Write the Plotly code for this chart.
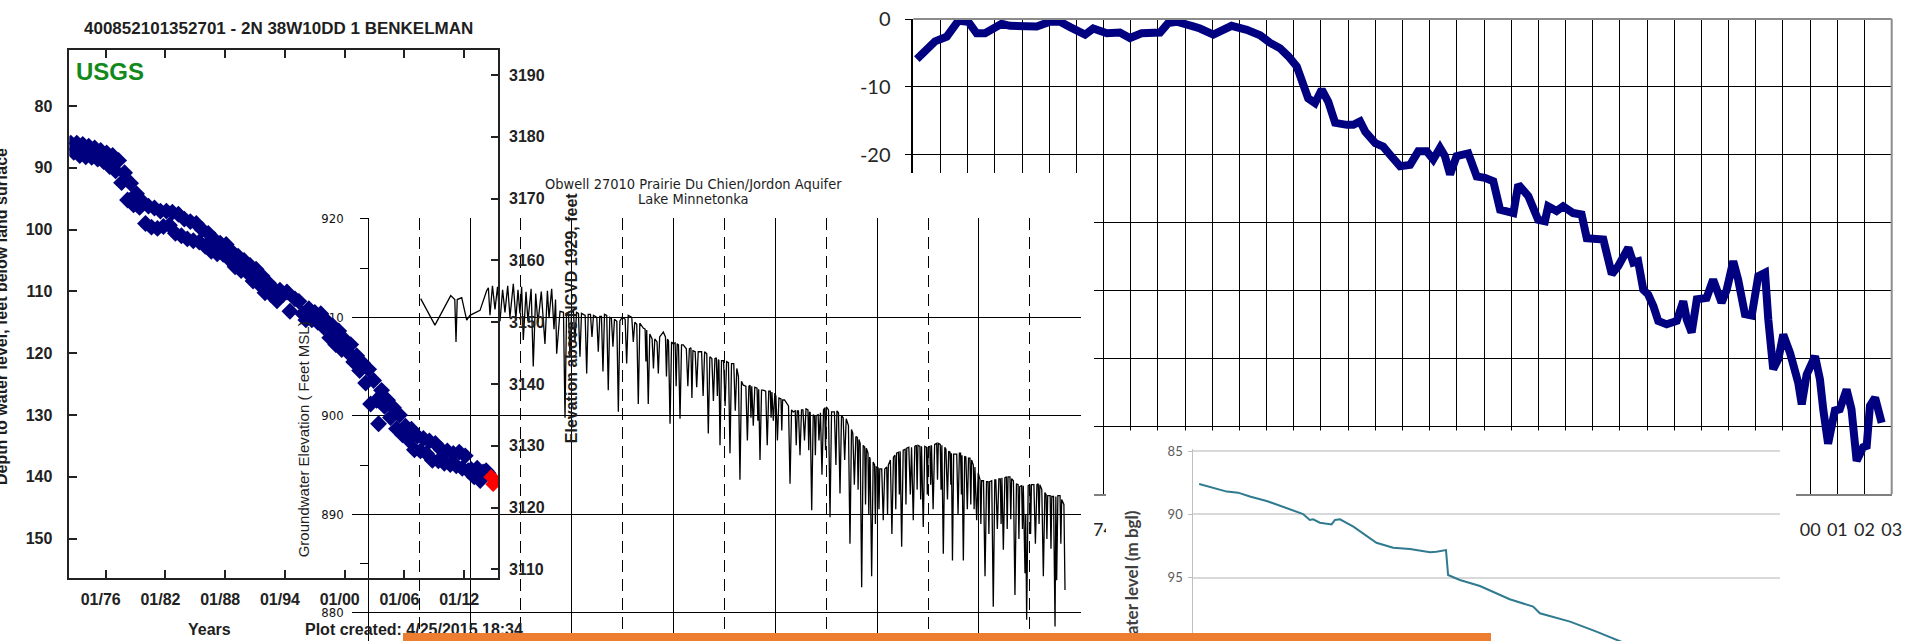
import plotly.graph_objects as go

W, H = 1911, 641

# ---------------- DATA ----------------
# Panel A: USGS 400852101352701 - depth to water (ft below land surface)
usgs_years = [
    1972.5, 1972.8, 1973.1, 1973.4, 1973.7, 1974.0, 1974.3, 1974.6, 1974.9, 1975.2,
    1975.5, 1975.8, 1976.1, 1976.4, 1976.7, 1977.0, 1977.3, 1977.6, 1977.9, 1978.2,
    1978.5, 1978.8, 1979.1, 1979.4, 1979.7, 1980.0, 1980.3, 1980.6, 1980.9, 1981.2,
    1981.5, 1981.8, 1982.1, 1982.4, 1982.7, 1983.0, 1983.3, 1983.6, 1983.9, 1984.2,
    1984.5, 1984.8, 1985.1, 1985.4, 1985.7, 1986.0, 1986.3, 1986.6, 1986.9, 1987.2,
    1987.5, 1987.8, 1988.1, 1988.4, 1988.7, 1989.0, 1989.3, 1989.6, 1989.9, 1990.2,
    1990.5, 1990.8, 1991.1, 1991.4, 1991.7, 1992.0, 1992.3, 1992.6, 1992.9, 1993.2,
    1993.5, 1993.8, 1994.2, 1994.5, 1995.0, 1995.4, 1995.8, 1996.1, 1996.4, 1996.7,
    1997.0, 1997.3, 1997.6, 1997.9, 1998.2, 1998.5, 1998.8, 1999.1, 1999.4, 1999.7,
    2000.0, 2000.3, 2000.6, 2000.9, 2001.2, 2001.5, 2001.8, 2002.1, 2002.4, 2002.6,
    2002.9, 2003.2, 2003.4, 2003.7, 2004.0, 2004.3, 2004.6, 2004.9, 2005.2, 2005.5,
    2005.8, 2006.1, 2006.4, 2006.7, 2007.0, 2007.3, 2007.6, 2007.9, 2008.2, 2008.5,
    2008.8, 2009.1, 2009.4, 2009.7, 2010.0, 2010.3, 2010.6, 2010.9, 2011.2, 2011.5,
    2011.8, 2012.1, 2012.4, 2012.7, 2013.0, 2013.3, 2013.6, 2013.9, 2014.2, 2014.4,
]
usgs_depth = [
    86.0, 87.5, 86.0, 88.0, 86.2, 88.2, 86.5, 88.3, 86.8, 88.6,
    87.2, 89.0, 87.6, 89.8, 88.0, 90.5, 88.8, 92.4, 90.8, 95.2,
    92.5, 96.0, 94.2, 96.4, 95.5, 99.0, 96.2, 99.6, 96.5, 99.8,
    97.0, 99.5, 97.0, 99.3, 97.2, 100.6, 97.5, 101.0, 98.3, 101.5,
    98.7, 101.8, 99.0, 102.0, 100.0, 102.7, 100.6, 103.5, 101.6, 103.9,
    102.2, 104.0, 102.4, 104.8, 103.6, 106.0, 104.3, 106.6, 105.0, 106.9,
    105.8, 108.3, 106.4, 108.8, 107.5, 110.2, 108.6, 110.5, 109.6, 111.5,
    109.8, 110.5, 110.1, 113.2, 111.2, 111.6, 113.6, 114.6, 112.8, 114.6,
    113.4, 115.0, 113.6, 115.8, 114.8, 117.5, 115.6, 118.6, 116.4, 119.4,
    117.8, 119.8, 118.6, 121.4, 120.4, 122.8, 121.6, 124.8, 122.6, 128.2,
    124.4, 127.6, 131.4, 126.0, 128.6, 127.6, 130.4, 128.8, 132.2, 130.0,
    133.2, 131.8, 134.0, 132.3, 135.6, 133.4, 135.8, 133.8, 136.2, 134.2,
    137.3, 134.6, 137.4, 135.6, 137.8, 135.8, 138.0, 136.2, 138.2, 136.0,
    138.6, 136.6, 139.0, 138.8, 140.0, 138.6, 140.6, 139.2, 139.0, 139.4,
]
usgs_recent_years = [2014.7, 2014.9, 2015.1]
usgs_recent_depth = [140.0, 141.2, 140.6]
usgs_tick_years = [1976, 1982, 1988, 1994, 2000, 2006, 2012]
usgs_tick_labels = ["01/76", "01/82", "01/88", "01/94", "01/00", "01/06", "01/12"]
usgs_depth_ticks = [80, 90, 100, 110, 120, 130, 140, 150]
usgs_elev_ticks = [3110, 3120, 3130, 3140, 3150, 3160, 3170, 3180, 3190]

# Panel B: Obwell 27010 groundwater elevation (ft MSL), (year, elevation) readings
obwell_points = [
    (1955.15, 911.9), (1956.55, 909.2), (1958.10, 912.2), (1958.50, 911.8), (1958.62, 907.5),
    (1958.74, 911.8), (1959.18, 912.0), (1959.67, 909.7), (1959.99, 910.2), (1960.98, 910.7),
    (1961.63, 912.7), (1961.80, 913.0), (1961.96, 910.2), (1962.20, 913.2), (1962.45, 910.8),
    (1962.70, 913.1), (1962.94, 909.6), (1963.20, 912.8), (1963.43, 910.5), (1963.70, 913.2),
    (1963.92, 910.0), (1964.25, 913.4), (1964.50, 909.8), (1964.71, 912.8), (1964.90, 910.4),
    (1965.07, 913.1), (1965.23, 907.7), (1965.50, 912.6), (1965.69, 909.6), (1966.00, 912.9),
    (1966.21, 905.0), (1966.45, 912.4), (1966.67, 909.4), (1967.00, 912.6), (1967.36, 907.3),
    (1967.60, 912.7), (1967.76, 909.9), (1968.02, 912.9), (1968.25, 908.8), (1968.40, 911.8),
    (1968.51, 906.3), (1968.84, 910.6),
    (1969.18, 910.5), (1969.33, 899.8), (1969.48, 910.4),
    (1969.67, 910.5), (1969.82, 906.0), (1969.97, 910.5),
    (1970.16, 910.6), (1970.31, 907.5), (1970.46, 910.5),
    (1970.65, 910.4), (1970.80, 906.0), (1970.95, 910.4),
    (1971.31, 910.2), (1971.46, 904.3), (1971.61, 910.3),
    (1971.83, 910.3), (1971.98, 908.0), (1972.13, 910.2),
    (1972.45, 910.0), (1972.60, 906.5), (1972.75, 910.1),
    (1972.91, 910.1), (1973.06, 904.5), (1973.21, 910.3),
    (1973.43, 910.2), (1973.58, 902.6), (1973.73, 910.0),
    (1973.89, 909.9), (1974.04, 907.0), (1974.19, 909.8),
    (1974.42, 909.6), (1974.57, 900.4), (1974.72, 909.6), (1974.95, 910.0),
    (1975.24, 909.8), (1975.39, 905.3), (1975.54, 910.2),
    (1975.89, 910.0), (1976.04, 907.5), (1976.19, 909.5),
    (1976.38, 909.3), (1976.53, 901.2), (1976.68, 909.4), (1977.02, 908.9),
    (1977.20, 908.8), (1977.28, 905.5), (1977.36, 908.7),
    (1977.51, 901.2), (1977.66, 908.3),
    (1977.89, 907.8), (1978.02, 904.8), (1978.15, 907.8),
    (1978.37, 907.5), (1978.50, 904.3), (1978.63, 908.0), (1978.99, 908.5),
    (1979.20, 908.0), (1979.30, 904.0), (1979.40, 907.8),
    (1979.50, 907.6), (1979.65, 899.2), (1979.80, 907.5), (1979.97, 907.3),
    (1980.15, 907.4), (1980.25, 903.0), (1980.35, 907.3),
    (1980.48, 907.2), (1980.63, 899.7), (1980.78, 907.2), (1980.95, 907.2),
    (1981.25, 906.8), (1981.40, 903.0), (1981.55, 906.8),
    (1981.70, 906.9), (1981.80, 901.8), (1981.90, 906.6),
    (1982.12, 906.5), (1982.27, 902.9), (1982.42, 906.5),
    (1982.75, 906.5), (1982.90, 902.0), (1983.05, 906.5),
    (1983.26, 906.3), (1983.41, 898.2), (1983.56, 906.0),
    (1983.76, 905.8), (1983.91, 901.5), (1984.06, 905.8),
    (1984.20, 905.9), (1984.30, 902.0), (1984.40, 905.7),
    (1984.45, 905.6), (1984.56, 897.0), (1984.71, 905.6),
    (1984.91, 905.6), (1985.06, 901.0), (1985.21, 905.5),
    (1985.39, 905.4), (1985.54, 896.2), (1985.69, 905.3),
    (1985.91, 905.3), (1986.06, 900.5), (1986.21, 904.8),
    (1986.37, 904.0), (1986.52, 893.5), (1986.67, 903.5), (1986.85, 903.1),
    (1987.10, 903.0), (1987.25, 897.5), (1987.40, 903.0),
    (1987.52, 903.1), (1987.60, 899.8), (1987.68, 903.0),
    (1987.83, 899.0), (1987.98, 902.9),
    (1988.20, 902.8), (1988.28, 899.5), (1988.36, 902.7),
    (1988.49, 895.5), (1988.64, 902.6), (1988.81, 902.6),
    (1989.05, 902.5), (1989.20, 897.0), (1989.35, 902.5),
    (1989.50, 902.5), (1989.58, 899.8), (1989.66, 902.4),
    (1989.80, 899.5), (1989.95, 902.3),
    (1990.05, 902.0), (1990.20, 897.5), (1990.35, 901.8),
    (1990.55, 901.7), (1990.63, 898.5), (1990.71, 901.6), (1990.90, 901.6),
    (1991.29, 901.0), (1991.44, 893.1), (1991.59, 900.6), (1991.76, 900.4),
    (1991.95, 900.5), (1992.05, 897.0), (1992.15, 900.5),
    (1992.27, 900.5), (1992.42, 896.0), (1992.57, 900.6),
    (1992.71, 900.6), (1992.86, 897.5), (1993.01, 900.7),
    (1993.20, 900.6), (1993.28, 896.5), (1993.36, 900.4),
    (1993.42, 900.3), (1993.57, 890.4), (1993.72, 900.1),
    (1993.85, 900.0), (1993.93, 896.0), (1994.01, 900.0),
    (1994.20, 900.1), (1994.28, 897.5), (1994.36, 900.2),
    (1994.43, 900.3), (1994.58, 894.0), (1994.73, 900.6),
    (1994.85, 900.8), (1994.93, 896.5), (1995.01, 900.9),
    (1995.22, 900.6), (1995.37, 889.7), (1995.52, 900.4),
    (1995.80, 900.4), (1995.95, 895.0), (1996.05, 900.5),
    (1996.20, 900.3), (1996.35, 892.1), (1996.50, 900.0),
    (1996.66, 899.8), (1996.81, 895.5), (1996.96, 899.7),
    (1997.18, 899.0), (1997.33, 887.0), (1997.48, 898.6),
    (1997.61, 898.2), (1997.76, 893.0), (1997.91, 897.9),
    (1998.05, 897.8), (1998.13, 892.5), (1998.21, 897.6),
    (1998.33, 897.2), (1998.48, 882.6), (1998.63, 897.0),
    (1998.78, 896.8), (1998.86, 891.0), (1998.94, 896.7),
    (1999.10, 896.2), (1999.18, 890.0), (1999.26, 895.8),
    (1999.31, 895.6), (1999.46, 883.7), (1999.61, 895.3),
    (1999.75, 895.0), (1999.83, 889.0), (1999.91, 894.8),
    (2000.10, 894.7), (2000.18, 890.5), (2000.26, 894.6),
    (2000.45, 894.6), (2000.60, 889.4), (2000.75, 894.6),
    (2000.94, 894.8), (2001.02, 890.0), (2001.10, 895.0),
    (2001.30, 895.5), (2001.45, 888.0), (2001.60, 895.8),
    (2001.75, 896.0), (2001.83, 890.5), (2001.91, 896.2),
    (2002.10, 896.3), (2002.18, 892.0), (2002.26, 896.4),
    (2002.41, 886.7), (2002.56, 896.5),
    (2002.75, 896.6), (2002.83, 891.0), (2002.91, 896.7),
    (2003.11, 896.8), (2003.26, 892.0), (2003.38, 896.8),
    (2003.55, 889.4), (2003.70, 896.9),
    (2003.85, 897.0), (2003.93, 892.5), (2004.01, 897.0),
    (2004.20, 896.9), (2004.28, 891.5), (2004.36, 896.9),
    (2004.53, 888.7), (2004.68, 896.9),
    (2004.85, 896.8), (2004.93, 892.0), (2005.01, 896.8),
    (2005.18, 896.9), (2005.26, 893.0), (2005.34, 897.0),
    (2005.50, 890.5), (2005.65, 897.1),
    (2005.85, 897.2), (2005.93, 893.5), (2006.01, 897.2),
    (2006.20, 897.1), (2006.28, 892.5), (2006.36, 897.0),
    (2006.50, 886.0), (2006.65, 896.8),
    (2006.76, 896.6), (2006.91, 891.5), (2007.03, 896.4),
    (2007.16, 896.3), (2007.24, 893.0), (2007.30, 896.2),
    (2007.40, 885.3), (2007.52, 896.1),
    (2007.82, 896.1), (2007.95, 890.0), (2008.08, 896.2),
    (2008.20, 896.2), (2008.28, 892.0), (2008.34, 896.0),
    (2008.47, 885.3), (2008.60, 895.9),
    (2008.72, 895.8), (2008.86, 890.5), (2008.98, 895.7),
    (2009.12, 895.7), (2009.20, 891.0), (2009.28, 895.5),
    (2009.45, 895.0), (2009.53, 890.5), (2009.61, 894.8),
    (2009.78, 889.4), (2009.93, 894.2),
    (2010.11, 893.5), (2010.19, 889.0), (2010.27, 893.4),
    (2010.45, 893.4), (2010.60, 883.7), (2010.75, 893.3),
    (2010.90, 893.3), (2010.98, 888.0), (2011.06, 893.3),
    (2011.26, 893.4), (2011.41, 880.6), (2011.56, 893.5),
    (2011.66, 893.5), (2011.81, 888.5), (2011.96, 893.6),
    (2012.10, 893.6), (2012.18, 889.0), (2012.26, 893.7),
    (2012.40, 886.4), (2012.55, 893.7),
    (2012.70, 893.8), (2012.78, 888.5), (2012.86, 893.8),
    (2013.05, 893.8), (2013.13, 889.5), (2013.21, 893.6),
    (2013.39, 893.4), (2013.54, 881.8), (2013.69, 893.1),
    (2013.85, 893.0), (2013.93, 887.5), (2014.01, 892.8),
    (2014.20, 892.9), (2014.28, 888.5), (2014.36, 892.9),
    (2014.53, 884.0), (2014.60, 890.0), (2014.69, 879.3), (2014.84, 892.9),
    (2015.00, 893.0), (2015.08, 888.0), (2015.16, 893.0), (2015.31, 893.0),
    (2015.40, 893.0), (2015.55, 887.0), (2015.70, 893.0),
    (2015.83, 893.1), (2015.91, 889.0), (2015.99, 893.0),
    (2016.18, 892.5), (2016.33, 883.7), (2016.48, 892.2),
    (2016.60, 892.0), (2016.68, 887.5), (2016.76, 891.9),
    (2017.00, 891.9), (2017.08, 886.5), (2017.16, 891.8),
    (2017.33, 891.8), (2017.48, 878.6), (2017.56, 891.8), (2017.64, 883.3), (2017.76, 891.9),
    (2017.97, 891.9), (2018.05, 887.0), (2018.13, 891.5),
    (2018.35, 891.0), (2018.46, 882.3),
]
obwell_years = [p[0] for p in obwell_points]
obwell_elev = [p[1] for p in obwell_points]
obwell_ticks = [880, 890, 900, 910, 920]

# Panel C: water-level change (ft), 1967-2003
trend_years = [
    1967.13, 1967.49, 1967.80, 1968.23, 1968.47, 1968.66, 1969.02, 1969.33, 1969.64, 1969.94,
    1970.25, 1970.56, 1971.05, 1971.54, 1972.03, 1972.40, 1972.77, 1973.32, 1973.62, 1974.12,
    1974.60, 1974.97, 1975.40, 1976.08, 1976.38, 1976.69, 1977.30, 1977.55, 1978.04, 1978.41,
    1978.71, 1979.27, 1979.76, 1980.12, 1980.49, 1980.80, 1981.11, 1981.29, 1981.53, 1981.78,
    1982.03, 1982.27, 1982.52, 1982.95, 1983.19, 1983.44, 1983.63, 1984.00, 1984.29, 1984.54,
    1984.91, 1985.28, 1985.58, 1985.89, 1986.13, 1986.38, 1986.56, 1986.75, 1986.99, 1987.42,
    1987.73, 1988.03, 1988.34, 1988.59, 1989.08, 1989.26, 1989.63, 1989.99, 1990.24, 1990.36,
    1990.67, 1990.91, 1991.28, 1991.59, 1991.78, 1992.39, 1992.63, 1992.70, 1992.94, 1993.31,
    1993.49, 1993.67, 1993.86, 1994.04, 1994.23, 1994.41, 1994.72, 1995.09, 1995.33, 1995.46,
    1995.64, 1995.83, 1996.19, 1996.43, 1996.74, 1996.93, 1997.17, 1997.35, 1997.60, 1997.85,
    1998.09, 1998.34, 1998.46, 1998.64, 1998.83, 1999.01, 1999.26, 1999.56, 1999.69, 1999.87,
    2000.18, 2000.36, 2000.48, 2000.66, 2000.91, 2001.09, 2001.34, 2001.52, 2001.71, 2001.95,
    2002.08, 2002.20, 2002.39, 2002.63,
]
trend_change = [
    -5.9, -4.6, -3.3, -2.6, -1.1, -0.25, -0.4, -2.1, -2.1, -1.4,
    -0.7, -1.0, -1.0, -1.1, -0.4, -0.4, -1.2, -2.3, -1.4, -2.1,
    -2.0, -2.8, -2.1, -2.0, -0.6, -0.4, -1.1, -1.4, -2.3, -1.6,
    -1.0, -1.6, -2.4, -3.5, -4.3, -5.5, -7.0, -9.0, -11.7, -12.4,
    -10.4, -12.2, -15.3, -15.6, -15.6, -15.1, -16.6, -18.3, -18.8, -20.0,
    -21.7, -21.5, -19.5, -19.5, -20.7, -19.0, -20.2, -22.9, -20.2, -19.8,
    -23.2, -23.4, -23.9, -28.1, -28.6, -24.4, -26.1, -29.6, -29.8, -27.6,
    -28.3, -27.6, -28.6, -28.8, -32.3, -32.5, -35.7, -37.6, -36.4, -33.7,
    -35.9, -35.7, -39.9, -40.6, -42.3, -44.5, -45.0, -44.5, -41.6, -44.3,
    -46.2, -41.3, -41.1, -38.4, -41.8, -39.9, -35.7, -38.4, -43.5, -43.7,
    -37.9, -37.4, -44.3, -51.6, -50.1, -46.5, -49.2, -53.6, -56.8, -52.4,
    -49.7, -53.1, -57.5, -62.6, -57.7, -57.5, -54.6, -57.5, -65.1, -63.1,
    -62.9, -57.0, -55.8, -59.5,
]
trend_tick_years = [
    1967, 1968, 1969, 1970, 1971, 1972, 1973, 1974, 1975, 1976, 1977, 1978, 1979,
    1980, 1981, 1982, 1983, 1984, 1985, 1986, 1987, 1988, 1989, 1990, 1991, 1992,
    1993, 1994, 1995, 1996, 1997, 1998, 1999, 2000, 2001, 2002, 2003,
]
trend_tick_labels = [
    "67", "68", "69", "70", "71", "72", "73", "74", "75", "76", "77", "78", "79",
    "80", "81", "82", "83", "84", "85", "86", "87", "88", "89", "90", "91", "92",
    "93", "94", "95", "96", "97", "98", "99", "00", "01", "02", "03",
]
trend_y_ticks = [0, -10, -20, -30, -40, -50, -60, -70]
trend_y_labels = ["0", "-10", "-20", "-30", "-40", "-50", "-60", "-70"]

# Panel D: water level (m bgl)
bgl_years = [
    2000.14, 2000.48, 2000.80, 2001.07, 2001.35, 2001.75, 2002.07, 2002.38, 2002.62, 2002.78,
    2002.86, 2003.02, 2003.30, 2003.38, 2003.50, 2003.82, 2004.37, 2004.77, 2005.17, 2005.65,
    2005.80, 2006.03, 2006.08, 2006.36, 2006.84, 2007.55, 2008.11, 2008.27, 2008.99, 2009.62,
    2010.10, 2010.60,
]
bgl_level = [
    87.61, 87.95, 88.21, 88.29, 88.6, 88.95, 89.32, 89.66, 89.98, 90.45,
    90.4, 90.67, 90.8, 90.45, 90.4, 90.98, 92.25, 92.64, 92.75, 93.0,
    92.96, 92.83, 94.8, 95.2, 95.67, 96.72, 97.3, 97.83, 98.49, 99.28,
    99.94, 100.6,
]
bgl_ticks = [85, 90, 95, 100]

assert len(usgs_years) == len(usgs_depth)
assert len(trend_years) == len(trend_change)
assert len(bgl_years) == len(bgl_level)


# ---------------- LAYOUT HELPERS ----------------
def fx(p):
    return p / W


def fy(p):
    return 1 - p / H


ARIAL = "Liberation Sans, Arial, sans-serif"
NARROW = "Liberation Sans Narrow, DejaVu Sans Condensed, Arial Narrow, sans-serif"
CALIBRI = "Lato, Open Sans, sans-serif"
DARK = "#1e1e1e"

fig = go.Figure()

# subplot 1 (bottom-most): thick navy trend chart
fig.add_trace(go.Scatter(x=trend_years, y=trend_change, mode="lines",
                         line=dict(color="#000080", width=8), xaxis="x", yaxis="y"))
# subplot 2: white backdrop of the Obwell chart
fig.add_trace(go.Scatter(x=[None], y=[None], mode="lines", xaxis="x2", yaxis="y2"))
# subplot 3: Obwell chart
fig.add_trace(go.Scatter(x=obwell_years, y=obwell_elev, mode="lines",
                         line=dict(color="black", width=1.3), xaxis="x3", yaxis="y3"))
# subplot 4: USGS chart
fig.add_trace(go.Scatter(x=usgs_years, y=usgs_depth, mode="markers",
                         marker=dict(symbol="diamond", size=13, color="#00007f"),
                         xaxis="x4", yaxis="y4"))
fig.add_trace(go.Scatter(x=usgs_recent_years, y=usgs_recent_depth, mode="markers",
                         marker=dict(symbol="diamond", size=12, color="#ff0000"),
                         xaxis="x4", yaxis="y4"))
fig.add_trace(go.Scatter(x=[None], y=[None], mode="lines", xaxis="x4", yaxis="y5"))
# subplot 6: white backdrop of the m bgl chart
fig.add_trace(go.Scatter(x=[None], y=[None], mode="lines", xaxis="x6", yaxis="y6"))
# subplot 7: m bgl chart
fig.add_trace(go.Scatter(x=bgl_years, y=bgl_level, mode="lines",
                         line=dict(color="#2f7a8f", width=2), xaxis="x7", yaxis="y7"))

hidden = dict(visible=False, range=[0, 1], fixedrange=True, automargin=False)

layout = dict(
    template="none",
    width=W, height=H, margin=dict(l=0, r=0, t=0, b=0, pad=0, autoexpand=False),
    paper_bgcolor="white", plot_bgcolor="white", showlegend=False,
    font=dict(family=ARIAL, color=DARK),
    # ---- trend chart ----
    xaxis=dict(domain=[fx(913.3), fx(1891.7)], anchor="y", range=[1967, 2003],
               tickmode="array", tickvals=trend_tick_years, ticktext=trend_tick_labels,
               showgrid=True, gridcolor="black", gridwidth=1.3, zeroline=False,
               showline=True, linecolor="#7f7f7f", linewidth=2, ticks="",
               tickfont=dict(family=CALIBRI, size=18, color="#262626"),
               ticklabelstandoff=18, automargin=False),
    yaxis=dict(domain=[fy(494), fy(19)], anchor="x", range=[-70, 0],
               tickmode="array", tickvals=trend_y_ticks, ticktext=trend_y_labels,
               showgrid=True, gridcolor="black", gridwidth=1.3, zeroline=False,
               showline=True, linecolor="black", linewidth=1.5,
               ticks="outside", ticklen=7, tickcolor="black", tickwidth=1.3,
               tickfont=dict(family=CALIBRI, size=20, color="#262626"),
               ticklabelstandoff=10, automargin=False),
    # ---- backdrop for Obwell chart ----
    xaxis2=dict(domain=[fx(352), fx(1094)], anchor="y2", **hidden),
    yaxis2=dict(domain=[0, fy(173)], anchor="x2", **hidden),
    # ---- Obwell chart ----
    xaxis3=dict(domain=[fx(352.3), fx(1081.2)], anchor="y3", range=[1948.43, 2020.05],
                tick0=1950, dtick=10, showgrid=True, gridcolor="black", gridwidth=1.4,
                minor=dict(tick0=1950, dtick=5, showgrid=True, gridcolor="black",
                           gridwidth=1.2, griddash="12px,7px"),
                showticklabels=False, ticks="", showline=False, zeroline=False,
                automargin=False),
    yaxis3=dict(domain=[0, fy(218.3)], anchor="free", position=fx(368.3),
                range=[877.13, 920.05], tickmode="array", tickvals=obwell_ticks,
                showgrid=True, gridcolor="black", gridwidth=1.4, zeroline=False,
                showline=False, ticks="outside", ticklen=8, tickcolor="black", tickwidth=1.2,
                minor=dict(tick0=880, dtick=5, ticks="outside", ticklen=8,
                           tickcolor="black", tickwidth=1.2, showgrid=False),
                tickfont=dict(family=NARROW, size=13, color="#111111"),
                ticklabelstandoff=14, automargin=False),
    # ---- USGS chart ----
    xaxis4=dict(domain=[fx(69.3), fx(498)], anchor="y4", range=[1972.35, 2015.39],
                tickmode="array", tickvals=usgs_tick_years, ticktext=usgs_tick_labels,
                ticks="inside", ticklen=8, tickwidth=1.5, tickcolor="#222222",
                showline=True, linecolor="#222222", linewidth=1.5, mirror="ticks",
                showgrid=False, zeroline=False,
                tickfont=dict(family=ARIAL, size=16, color="#222222", weight="bold"),
                ticklabelstandoff=6, ticklabelshift=-5, automargin=False),
    yaxis4=dict(domain=[fy(577.7), fy(50)], anchor="x4", range=[156.31, 70.94],
                tickmode="array", tickvals=usgs_depth_ticks,
                ticks="inside", ticklen=8, tickwidth=1.5, tickcolor="#222222",
                showline=True, linecolor="#222222", linewidth=1.5, mirror=True,
                showgrid=False, zeroline=False,
                tickfont=dict(family=ARIAL, size=16, color="#222222", weight="bold"),
                ticklabelstandoff=12, automargin=False),
    yaxis5=dict(overlaying="y4", side="right", anchor="x4", range=[3108.64, 3194.05],
                tickmode="array", tickvals=usgs_elev_ticks,
                ticks="inside", ticklen=7, tickwidth=1.5, tickcolor="#222222",
                showline=False, showgrid=False, zeroline=False,
                tickfont=dict(family=ARIAL, size=16, color="#222222", weight="bold"),
                ticklabelstandoff=10, automargin=False),
    # ---- backdrop for m bgl chart ----
    xaxis6=dict(domain=[fx(1106), fx(1796)], anchor="y6", **hidden),
    yaxis6=dict(domain=[0, fy(430.5)], anchor="x6", **hidden),
    # ---- m bgl chart ----
    xaxis7=dict(domain=[fx(1193.3), fx(1780)], anchor="y7", range=[2000, 2014],
                visible=False, automargin=False),
    yaxis7=dict(domain=[0, fy(449)], anchor="x7", range=[100.02, 84.84],
                tickmode="array", tickvals=bgl_ticks,
                showgrid=True, gridcolor="#d9d9d9", gridwidth=1.5, zeroline=False,
                showline=True, linecolor="#bfbfbf", linewidth=1,
                ticks="outside", ticklen=4, tickcolor="#bfbfbf",
                tickfont=dict(family=CALIBRI, size=13, color="#595959"),
                ticklabelstandoff=3, automargin=False),
    shapes=[
        dict(type="line", xref="x domain", yref="y domain", x0=0, x1=1, y0=1, y1=1,
             line=dict(color="#8c8c8c", width=2), layer="above"),
        dict(type="line", xref="x domain", yref="y domain", x0=1, x1=1, y0=0, y1=1,
             line=dict(color="#8c8c8c", width=2), layer="above"),
    ],
)


def note(text, x, y, size, family=ARIAL, color=DARK, bold=False, angle=0,
         xanchor="center", yanchor="middle"):
    return dict(text=text, x=fx(x), y=fy(y), xref="paper", yref="paper",
                showarrow=False, textangle=angle, xanchor=xanchor, yanchor=yanchor,
                font=dict(family=family, size=size, color=color,
                          weight="bold" if bold else "normal"))


annotations = [
    note("400852101352701 - 2N 38W10DD 1 BENKELMAN", 278.3, 28, 17, bold=True),
    note("USGS", 109.5, 72, 24, color="#12891a", bold=True),
    note("Years", 209, 629, 16, bold=True),
    note("Plot created: 4/25/2015 18:34", 303, 629, 16, bold=True, xanchor="left"),
    note("Depth to water level, feet below land surface", 1.5, 316.5, 16, bold=True, angle=-90),
    note("Elevation above NGVD 1929, feet", 571.7, 317.5, 16, bold=True, angle=-90),
    note("Obwell 27010 Prairie Du Chien/Jordon Aquifer", 693.8, 183.5, 14.5, family=NARROW),
    note("Lake Minnetonka", 693.3, 199.5, 14.5, family=NARROW),
    note("Groundwater Elevation ( Feet MSL)", 303.3, 439, 15, angle=-90),
    note("Water level (m bgl)", 1131, 581, 17, family=CALIBRI, color="#404040",
         bold=True, angle=-90),
    # orange banner along the bottom edge (drawn last so it sits on top)
    dict(text=" ", x=fx(403.3), y=0, xref="paper", yref="paper", showarrow=False,
         xanchor="left", yanchor="bottom", width=1088.4, height=7.7,
         bgcolor="#ED7D31", borderpad=0, borderwidth=0, font=dict(size=1)),
]
layout["annotations"] = annotations

fig.update_layout(**layout)

fig.write_html("out.html", include_plotlyjs=True, full_html=True,
               config={"displayModeBar": False, "responsive": False},
               post_script="document.body.style.margin='0px';document.body.style.overflow='hidden';")
